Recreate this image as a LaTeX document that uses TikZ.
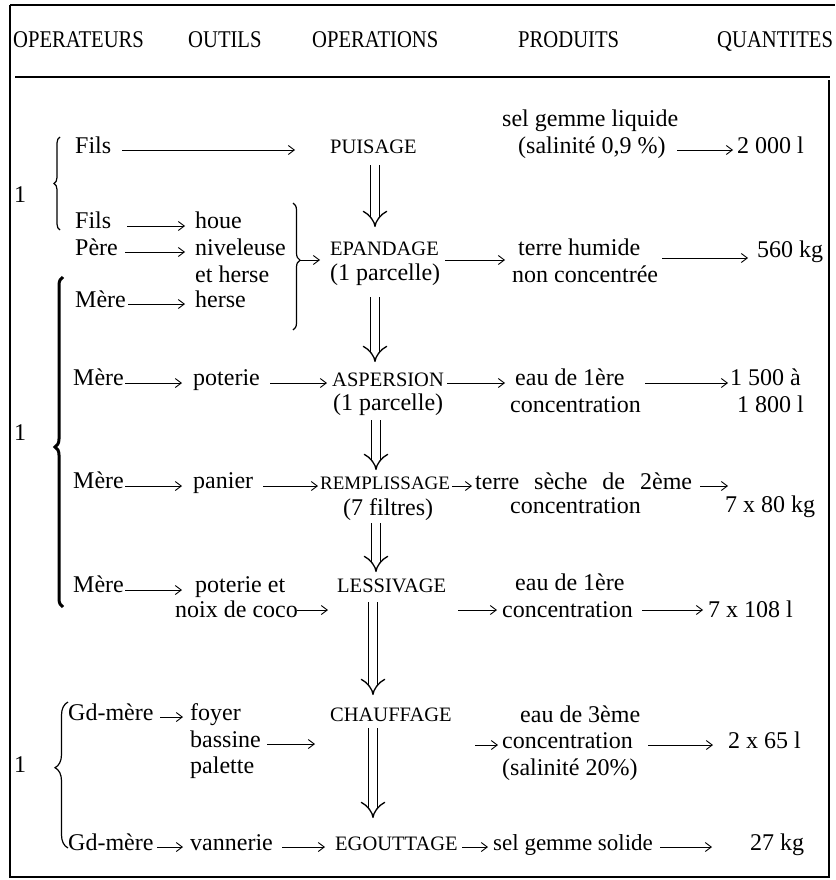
\documentclass[tikz,border=0pt]{standalone}
\usepackage{fontspec}
\setmainfont{Liberation Serif}
\newfontfamily\hdrfont[FakeStretch=0.86]{Liberation Serif}
\usetikzlibrary{arrows.meta,decorations.pathreplacing}
\begin{document}
\begin{tikzpicture}[x=1pt,y=-1pt,
  txt/.style={anchor=base west, inner sep=0pt, font=\fontsize{24}{26}\selectfont},
  op/.style={anchor=base west, inner sep=0pt, font=\fontsize{20.5}{22}\selectfont},
  hdr/.style={anchor=base west, inner sep=0pt, font=\hdrfont\fontsize{24}{26}\selectfont},
  arr/.style={-{Straight Barb[length=6pt,width=9pt]}, line width=0.9pt},
  dbl/.style={double, double distance=7.5pt, line width=1.3pt, -{Implies[length=11pt,width=26pt]}},
  brc/.style={decorate, decoration={brace, amplitude=#1}, line width=1.2pt},
  framel/.style={line width=1.8pt}]
\fill[white] (0,0) rectangle (835,880);
\useasboundingbox (0,0) rectangle (835,880);
% frame
\draw[framel] (10,5) -- (835,5);
\draw[framel] (10,5) -- (10,877) -- (829,877) -- (829,80);
\draw[line width=1.3pt] (15,77) -- (830,77);
% header
\node[hdr] (h1) at (13,48) {OPERATEURS};
\node[hdr] (h2) at (188,48) {OUTILS};
\node[hdr] (h3) at (312,48) {OPERATIONS};
\node[hdr] (h4) at (518,48) {PRODUITS};
\node[hdr] (h5) at (717,48) {QUANTITES};
% group labels
\node[txt] (one1) at (14,202) {1};
\node[txt] (one2) at (14,440) {1};
\node[txt] (one3) at (14,772) {1};
% row 1
\node[txt] (fils1) at (75,153) {Fils};
\node[op]  (puis)  at (330,153) {PUISAGE};
\node[txt] (sgl)   at (502,127) {sel gemme liquide};
\node[txt] (sal1)  at (518,153) {(salinité 0,9 \%)};
\node[txt] (q1)    at (737,153) {2 000 l};
% row 2
\node[txt] (fils2) at (75,228) {Fils};
\node[txt] (houe)  at (195,228) {houe};
\node[txt] (pere)  at (75,255) {Père};
\node[txt] (nivel) at (195,255) {niveleuse};
\node[txt] (eth)   at (195,282) {et herse};
\node[txt] (mere1) at (75,307) {Mère};
\node[txt] (herse) at (195,307) {herse};
\node[op]  (epa)   at (330,255) {EPANDAGE};
\node[txt] (parc1) at (330,280) {(1 parcelle)};
\node[txt] (terre) at (518,255) {terre humide};
\node[txt] (nonc)  at (512,282) {non concentrée};
\node[txt] (q2)    at (757,257) {560 kg};
% row 3
\node[txt] (mere2) at (73,385) {Mère};
\node[txt] (pot1)  at (193,385) {poterie};
\node[op]  (asp)   at (332,386) {ASPERSION};
\node[txt] (parc2) at (333,410) {(1 parcelle)};
\node[txt] (eau1)  at (515,385) {eau de 1ère};
\node[txt] (conc1) at (510,412) {concentration};
\node[txt] (q3a)   at (730,385) {1 500 à};
\node[txt] (q3b)   at (737,412) {1 800 l};
% row 4
\node[txt] (mere3) at (73,488) {Mère};
\node[txt] (pan)   at (193,488) {panier};
\node[op, font=\fontsize{19}{21}\selectfont] (rem) at (320,489) {REMPLISSAGE};
\node[txt] (filt)  at (343,515) {(7 filtres)};
\node[txt] (tsec)  at (475,489) {\spaceskip=15pt terre sèche de 2ème};
\node[txt] (conc2) at (510,513) {concentration};
\node[txt] (q4)    at (725,512) {7 x 80 kg};
% row 5
\node[txt] (mere4) at (73,592) {Mère};
\node[txt] (potc)  at (195,592) {poterie et};
\node[txt] (coco)  at (175,617) {noix de coco};
\node[op]  (less)  at (337,592) {LESSIVAGE};
\node[txt] (eau2)  at (515,590) {eau de 1ère};
\node[txt] (conc3) at (502,617) {concentration};
\node[txt] (q5)    at (708,617) {7 x 108 l};
% row 6
\node[txt] (gdm1)  at (68,720) {Gd-mère};
\node[txt] (foy)   at (190,720) {foyer};
\node[txt] (bass)  at (190,747) {bassine};
\node[txt] (pal)   at (190,773) {palette};
\node[op]  (chauf) at (330,721) {CHAUFFAGE};
\node[txt] (eau3)  at (520,722) {eau de 3ème};
\node[txt] (conc4) at (502,748) {concentration};
\node[txt] (sal2)  at (502,775) {(salinité 20\%)};
\node[txt] (q6)    at (728,748) {2 x 65 l};
% row 7
\node[txt] (gdm2)  at (68,850) {Gd-mère};
\node[txt] (vann)  at (190,850) {vannerie};
\node[op]  (egou)  at (335,850) {EGOUTTAGE};
\node[txt, font=\fontsize{23}{25}\selectfont] (sgs) at (493,850) {sel gemme solide};
\node[txt] (q7)    at (750,850) {27 kg};
% braces
\coordinate (b1s) at (60,230); \coordinate (b1e) at (60,137);
\coordinate (b2s) at (63,607); \coordinate (b2e) at (63,277);
\coordinate (b3s) at (68,848); \coordinate (b3e) at (68,702);
\coordinate (brs) at (293,203); \coordinate (bre) at (293,330);
\coordinate (btip) at (300,260);
\draw[brc=6, decoration={aspect=0.5}] (b1s) -- (b1e);
\draw[brc=8, decoration={aspect=0.485}, line width=3pt] (b2s) -- (b2e);
\draw[brc=13, decoration={aspect=0.55}] (b3s) -- (b3e);
\draw[brc=7, decoration={aspect=0.45}] (brs) -- (bre);
% simple arrows
\draw[arr] ([shift={(47,-3)}]fils1.base west) -- ([shift={(-35,-3)}]puis.base west);
\draw[arr] ([shift={(159,-3)}]sal1.base west) -- ([shift={(-4,-3)}]q1.base west);
\draw[arr] ([shift={(52,-2)}]fils2.base west) -- ([shift={(-10,-2)}]houe.base west);
\draw[arr] ([shift={(50,-3)}]pere.base west) -- ([shift={(-10,-3)}]nivel.base west);
\draw[arr] ([shift={(53,-3)}]mere1.base west) -- ([shift={(-10,-3)}]herse.base west);
\draw[arr] (btip) -- ([shift={(-10,5)}]epa.base west);
\draw[arr] ([shift={(115,5)}]epa.base west) -- ([shift={(-13,5)}]terre.base west);
\draw[arr] ([shift={(150,-24)}]nonc.base west) -- ([shift={(-9,1)}]q2.base west);
\draw[arr] ([shift={(52,-2)}]mere2.base west) -- ([shift={(-11,-2)}]pot1.base west);
\draw[arr] ([shift={(77,-2)}]pot1.base west) -- ([shift={(-5,-3)}]asp.base west);
\draw[arr] ([shift={(115,-3)}]asp.base west) -- ([shift={(-10,-2)}]eau1.base west);
\draw[arr] ([shift={(130,-2)}]eau1.base west) -- ([shift={(-2,-2)}]q3a.base west);
\draw[arr] ([shift={(52,-2)}]mere3.base west) -- ([shift={(-11,-2)}]pan.base west);
\draw[arr] ([shift={(70,-2)}]pan.base west) -- ([shift={(-2,-3)}]rem.base west);
\draw[arr] ([shift={(132,-3)}]rem.base west) -- ([shift={(-3,-3)}]tsec.base west);
\draw[arr] ([shift={(225,-3)}]tsec.base west) -- ([shift={(3,-26)}]q4.base west);
\draw[arr] ([shift={(52,-2)}]mere4.base west) -- ([shift={(-13,-2)}]potc.base west);
\draw[arr] ([shift={(122,-7)}]coco.base west) -- ([shift={(-9,18)}]less.base west);
\draw[arr] ([shift={(121,18)}]less.base west) -- ([shift={(-5,-7)}]conc3.base west);
\draw[arr] ([shift={(140,-7)}]conc3.base west) -- ([shift={(-5,-7)}]q5.base west);
\draw[arr] ([shift={(92,-3)}]gdm1.base west) -- ([shift={(-7,-3)}]foy.base west);
\draw[arr] ([shift={(77,-3)}]bass.base west) -- ([shift={(-15,23)}]chauf.base west);
\draw[arr] ([shift={(145,24)}]chauf.base west) -- ([shift={(-4,-3)}]conc4.base west);
\draw[arr] ([shift={(146,-3)}]conc4.base west) -- ([shift={(-15,-3)}]q6.base west);
\draw[arr] ([shift={(89,-3)}]gdm2.base west) -- ([shift={(-7,-3)}]vann.base west);
\draw[arr] ([shift={(92,-3)}]vann.base west) -- ([shift={(-10,-3)}]egou.base west);
\draw[arr] ([shift={(127,-3)}]egou.base west) -- ([shift={(-5,-3)}]sgs.base west);
\draw[arr] ([shift={(167,-3)}]sgs.base west) -- ([shift={(-38,-3)}]q7.base west);
% double arrows
\draw[dbl] ([shift={(45,12)}]puis.base west) -- ([shift={(45,-28)}]epa.base west);
\draw[dbl] ([shift={(45,42)}]epa.base west) -- ([shift={(43,-24)}]asp.base west);
\draw[dbl] ([shift={(44,34)}]asp.base west) -- ([shift={(56,-19)}]rem.base west);
\draw[dbl] ([shift={(56,34)}]rem.base west) -- ([shift={(39,-20)}]less.base west);
\draw[dbl] ([shift={(36,10)}]less.base west) -- ([shift={(43,-26)}]chauf.base west);
\draw[dbl] ([shift={(43,7)}]chauf.base west) -- ([shift={(38,-32)}]egou.base west);
\end{tikzpicture}
\end{document}
